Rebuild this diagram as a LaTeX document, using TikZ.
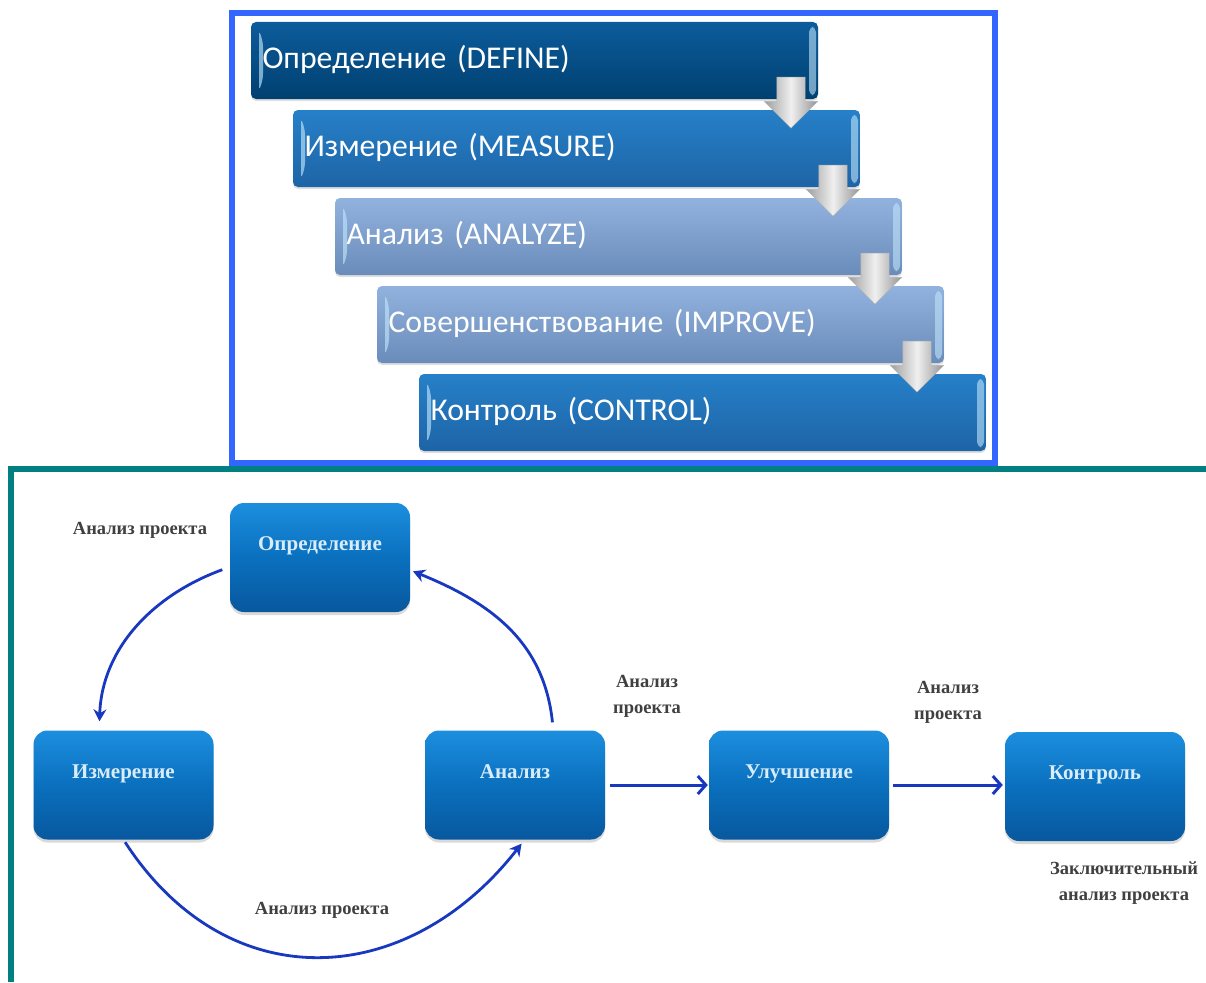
\documentclass[tikz,border=0pt]{standalone}
\usepackage{fontspec}
\setmainfont{Liberation Serif}
\newfontfamily\barfont{Carlito}
\usetikzlibrary{arrows.meta,calc,shadows,shapes.arrows}

\definecolor{framblue}{HTML}{3366FF}
\definecolor{framteal}{HTML}{008080}
\definecolor{linkblue}{HTML}{1838C0}
\definecolor{boxtext}{HTML}{D8ECFA}
\definecolor{barglow}{HTML}{BFE4FA}

\tikzset{
    barbox/.style={rounded corners=5pt, minimum width=567pt, minimum height=77pt,
        inner xsep=11.5pt, inner ysep=0pt, text width=544pt, align=left, text=white,
        text height=23pt, text depth=7pt,
        font=\barfont\fontsize{31.7}{36}\selectfont,
        drop shadow={shadow xshift=0pt, shadow yshift=-2pt, opacity=.25},
        path picture={
            \fill[barglow, opacity=.65] ($(path picture bounding box.north west)+(8,8)$)
                -- ($(path picture bounding box.north west)+(12,20)$)
                -- ($(path picture bounding box.south west)+(12,-20)$)
                -- ($(path picture bounding box.south west)+(8,-8)$) -- cycle;
            \fill[barglow, opacity=.6] ($(path picture bounding box.north east)+(-9,5)$)
                -- ($(path picture bounding box.north east)+(-2,5)$)
                -- ($(path picture bounding box.south east)+(-2,-4)$)
                -- ($(path picture bounding box.south east)+(-9,-4)$) -- cycle;
        }},
    bardark/.style={barbox, top color={rgb,255:red,12;green,92;blue,156}, bottom color={rgb,255:red,0;green,64;blue,112}},
    barmid/.style={barbox, top color={rgb,255:red,38;green,128;blue,200}, bottom color={rgb,255:red,30;green,100;blue,166}},
    barpale/.style={barbox, top color={rgb,255:red,146;green,178;blue,222}, bottom color={rgb,255:red,106;green,140;blue,186}},
    downarrow/.style={single arrow, shape border rotate=270, minimum height=51pt, inner sep=14pt,
        single arrow head extend=12.5pt, draw=black!30, line width=.4pt,
        left color=black!38, right color=black!42, middle color=black!6},
    stagebox/.style={rounded corners=14pt, minimum width=180pt, minimum height=109pt, inner sep=0pt,
        text height=14pt, text depth=28pt, text=boxtext, font=\fontsize{21}{24}\selectfont\bfseries,
        top color={rgb,255:red,28;green,142;blue,222}, bottom color={rgb,255:red,8;green,88;blue,158},
        middle color={rgb,255:red,10;green,112;blue,190},
        drop shadow={shadow xshift=0pt, shadow yshift=-3pt, opacity=.3}},
    note/.style={text=black!75, align=center, font=\fontsize{18.5}{26}\selectfont\bfseries},
    linkcurve/.style={draw=linkblue, line width=2.8pt, -{Stealth[length=12pt,width=13pt]}},
    linkline/.style={draw=linkblue, line width=3pt, -{Straight Barb[length=8pt,width=18pt]}}
}

\begin{document}
\begin{tikzpicture}[x=1pt,y=-1pt]
    \useasboundingbox (0,0) rectangle (1206,982);

    % frames
    \draw[framblue, line width=6pt] (232,13) rectangle (995,463);
    \draw[framteal, line width=6pt] (11,982) -- (11,469) -- (1206,469);

    % upper list
    \node[bardark] at (534.5,60.5) (define) {Определение  (DEFINE)};
    \node[barmid] at (576.5,148.5) (measure) {Измерение  (MEASURE)};
    \node[barpale] at (618.5,236.5) (analyze) {Анализ (ANALYZE)};
    \node[barpale] at (660.5,324.5) (improve) {Совершенствование  (IMPROVE)};
    \node[barmid] at (702.5,412.5) (control) {Контроль (CONTROL)};

    \node[downarrow] at (791,95.5) (arrowa) {};
    \node[downarrow] at (833,183.5) (arrowb) {};
    \node[downarrow] at (875,271.5) (arrowc) {};
    \node[downarrow] at (917,359.5) (arrowd) {};

    % lower cycle
    \node[stagebox] at (320,557.5) (opr) {Определение};
    \node[stagebox] at (123.5,785) (izm) {Измерение};
    \node[stagebox] at (515,785) (ana) {Анализ};
    \node[stagebox] at (799,785) (ulu) {Улучшение};
    \node[stagebox] at (1095,786.5) (kon) {Контроль};

    \path
    (opr.186.7) edge [linkcurve, shorten <=8pt, shorten >=9pt, out=200, in=88] (izm.114)
    (ana.55.6) edge [linkcurve, shorten <=8pt, shorten >=3pt, out=96, in=-22, looseness=1.05] (opr.-8)
    (izm.-90) edge [linkcurve, shorten <=3pt, shorten >=5pt, out=-57, in=-128, looseness=1.22] (ana.-80)
    (ana.east) edge [linkline, shorten <=5pt, shorten >=1pt] (ulu.west)
    (ulu.east |- ana.east) edge [linkline, shorten <=4pt, shorten >=2pt] (kon.west |- ana.east)
    ;

    \node[note] at (140,530) (notea) {Анализ проекта};
    \node[note] at (322,910) (noteb) {Анализ проекта};
    \node[note] at (647,696) (notec) {Анализ\\проекта};
    \node[note] at (948,702) (noted) {Анализ\\проекта};
    \node[note] at (1124,883) (notee) {Заключительный\\анализ проекта};
\end{tikzpicture}
\end{document}
